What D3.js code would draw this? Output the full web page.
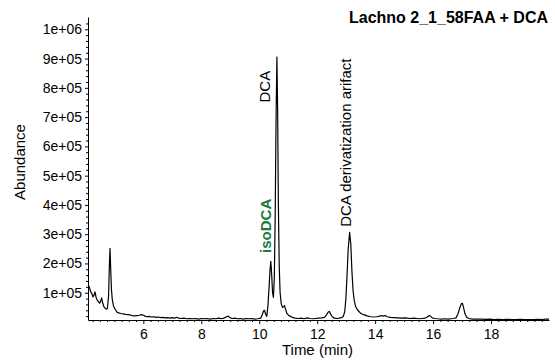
<!DOCTYPE html>
<html>
<head>
<meta charset="utf-8">
<script src="https://cdn.jsdelivr.net/npm/d3@7/dist/d3.min.js"></script>
<style>
  html, body { margin: 0; padding: 0; background: #fff; }
  svg { display: block; font-family: "Liberation Sans", Arial, sans-serif; }
</style>
</head>
<body>
<svg id="chart" width="555" height="364"></svg>
<script>
// Total ion chromatogram: retention time (min) and abundance
const times = [
  4.10, 4.14, 4.18, 4.22, 4.26, 4.30, 4.33, 4.37, 4.41, 4.45, 4.49, 4.53, 4.56, 4.60, 4.64, 4.68,
  4.72, 4.76, 4.80, 4.83, 4.85, 4.87, 4.90, 4.93, 4.97, 5.00, 5.05, 5.10, 5.15, 5.22, 5.30, 5.38,
  5.46, 5.54, 5.62, 5.70, 5.78, 5.86, 5.94, 6.00, 6.06, 6.12, 6.20, 6.28, 6.36, 6.44, 6.52, 6.60,
  6.68, 6.76, 6.84, 6.92, 7.00, 7.08, 7.15, 7.22, 7.30, 7.40, 7.50, 7.60, 7.70, 7.80, 7.90, 8.00,
  8.10, 8.20, 8.30, 8.40, 8.50, 8.60, 8.70, 8.80, 8.87, 8.93, 9.00, 9.08, 9.16, 9.25, 9.35, 9.45,
  9.55, 9.65, 9.75, 9.85, 9.95, 10.05, 10.10, 10.15, 10.18, 10.22, 10.26, 10.30, 10.34, 10.37, 10.40, 10.43,
  10.46, 10.49, 10.52, 10.55, 10.58, 10.61, 10.635, 10.66, 10.69, 10.72, 10.76, 10.80, 10.84, 10.87, 10.91, 10.95,
  11.00, 11.06, 11.14, 11.24, 11.35, 11.45, 11.55, 11.65, 11.75, 11.85, 11.95, 12.05, 12.15, 12.25, 12.32, 12.38,
  12.42, 12.47, 12.53, 12.60, 12.68, 12.76, 12.84, 12.90, 12.95, 12.99, 13.03, 13.07, 13.12, 13.16, 13.20, 13.24,
  13.28, 13.33, 13.40, 13.50, 13.60, 13.72, 13.85, 13.95, 14.05, 14.15, 14.22, 14.28, 14.34, 14.42, 14.52, 14.65,
  14.78, 14.90, 15.05, 15.20, 15.35, 15.50, 15.62, 15.72, 15.80, 15.86, 15.91, 15.97, 16.05, 16.15, 16.28, 16.40,
  16.52, 16.62, 16.72, 16.80, 16.86, 16.92, 16.97, 17.01, 17.05, 17.10, 17.16, 17.24, 17.35, 17.50, 17.65, 17.80,
  17.95, 18.10, 18.25, 18.40, 18.55, 18.70, 18.85, 19.00, 19.15, 19.30, 19.45, 19.60, 19.75, 19.90, 20.00
];
const abundance = [
  126000, 118000, 104000, 98000, 86000, 92000, 103000, 84000, 74000, 70000, 64000, 72000, 82000, 64000, 52000, 47000,
  44000, 46000, 90000, 200000, 252000, 190000, 110000, 75000, 55000, 48000, 40000, 33000, 31000, 29000, 28000, 26000,
  25000, 24000, 22000, 21000, 22000, 23000, 25000, 23000, 20000, 18000, 19000, 17000, 18000, 16000, 17000, 15000,
  16000, 14000, 15000, 13000, 15000, 13000, 16000, 13000, 12000, 13000, 11000, 12000, 11000, 12000, 10000, 12000,
  11000, 12000, 10000, 12000, 11000, 13000, 11000, 14000, 18000, 20000, 14000, 12000, 13000, 11000, 12000, 10000,
  12000, 11000, 12000, 10000, 11000, 13000, 24000, 38000, 40000, 27000, 19000, 55000, 120000, 175000, 207000, 160000,
  100000, 84000, 150000, 360000, 690000, 905000, 720000, 400000, 190000, 100000, 62000, 50000, 52000, 56000, 43000, 30000,
  24000, 20000, 16000, 13000, 12000, 13000, 11000, 14000, 12000, 11000, 12000, 13000, 14000, 16000, 24000, 34000,
  36000, 26000, 17000, 13000, 12000, 13000, 15000, 19000, 35000, 80000, 160000, 250000, 306000, 265000, 170000, 105000,
  72000, 52000, 40000, 30000, 25000, 21000, 18000, 17000, 18000, 20000, 22000, 20000, 22000, 18000, 16000, 15000,
  14000, 13000, 14000, 12000, 13000, 11000, 12000, 13000, 17000, 22000, 20000, 14000, 12000, 11000, 10000, 11000,
  10000, 11000, 12000, 15000, 28000, 48000, 62000, 64000, 50000, 28000, 16000, 12000, 10000, 9500, 10000, 9000,
  9500, 8500, 9000, 8000, 9000, 8500, 8000, 9000, 8000, 8500, 8000, 9000, 8500, 9500, 10000
];

// Axis ticks
const xTicks = [6, 8, 10, 12, 14, 16, 18];
const xTickLabels = ["6", "8", "10", "12", "14", "16", "18"];
const yTicks = [100000, 200000, 300000, 400000, 500000, 600000, 700000, 800000, 900000, 1000000];
const yTickLabels = ["1e+05", "2e+05", "3e+05", "4e+05", "5e+05", "6e+05", "7e+05", "8e+05", "9e+05", "1e+06"];

// Peak annotations: label, retention time, abundance at the foot of the label
const peakNames = ["DCA", "isoDCA", "DCA derivatization arifact"];
const peakTimes = [10.61, 10.40, 13.12];
const peakLabelLevels = [750000, 236000, 325000];

const svg = d3.select("#chart");
const margin = { left: 88, right: 6, top: 17, bottom: 44 };
const W = 555, H = 364;

const x = d3.scaleLinear().domain([4.09, 20.0]).range([margin.left, W - margin.right]);
const y = d3.scaleLinear().domain([6800, 1042000]).range([H - margin.bottom, margin.top]);

const g = svg.append("g");

// minor ticks
const xMinor = d3.range(4.25, 20.0, 0.25).filter(v => Math.abs(v / 2 - Math.round(v / 2)) > 1e-6);
const yMinor = d3.range(20000, 1040000, 20000).filter(v => v % 100000 !== 0);

g.append("g")
  .attr("transform", `translate(0,${H - margin.bottom})`)
  .call(d3.axisBottom(x).tickValues(xMinor).tickSize(2).tickFormat(""))
  .call(a => a.select(".domain").remove());

g.append("g")
  .attr("transform", `translate(${margin.left},0)`)
  .call(d3.axisLeft(y).tickValues(yMinor).tickSize(2).tickFormat(""))
  .call(a => a.select(".domain").remove());

// major axes
const xAxis = g.append("g")
  .attr("transform", `translate(0,${H - margin.bottom})`)
  .call(d3.axisBottom(x).tickValues(xTicks).tickSize(4).tickPadding(5)
    .tickFormat((d, i) => xTickLabels[i]).tickSizeOuter(0));

const yAxis = g.append("g")
  .attr("transform", `translate(${margin.left},0)`)
  .call(d3.axisLeft(y).tickValues(yTicks).tickSize(3).tickPadding(3)
    .tickFormat((d, i) => yTickLabels[i]).tickSizeOuter(0));

[xAxis, yAxis].forEach(a => {
  a.selectAll("text").attr("font-size", 14).attr("fill", "#000")
    .attr("font-family", "'Liberation Sans', Arial, sans-serif");
  a.selectAll("line").attr("stroke", "#000");
  a.select(".domain").attr("stroke", "#000");
});

// chromatogram trace
const pts = times.map((t, i) => [t, abundance[i]]);
g.append("path")
  .datum(pts)
  .attr("fill", "none")
  .attr("stroke", "#000")
  .attr("stroke-width", 1.2)
  .attr("stroke-linejoin", "round")
  .attr("d", d3.line().x(d => x(d[0])).y(d => y(Math.max(d[1], 6800))));

// peak labels, written bottom-to-top
const labelStyle = [
  { dx: -12, color: "#000", weight: "normal" },
  { dx: -5, color: "#1a7a40", weight: "bold" },
  { dx: -4, color: "#000", weight: "normal" }
];
peakNames.forEach((name, i) => {
  const s = labelStyle[i];
  svg.append("text")
    .attr("transform", `translate(${x(peakTimes[i]) + s.dx},${y(peakLabelLevels[i])}) rotate(-90)`)
    .attr("text-anchor", "start")
    .attr("dominant-baseline", "central")
    .attr("font-size", 15)
    .attr("font-weight", s.weight)
    .attr("fill", s.color)
    .text(name);
});

// title
svg.append("text")
  .attr("x", 548).attr("y", 23)
  .attr("text-anchor", "end")
  .attr("font-size", 16)
  .attr("font-weight", "bold")
  .text("Lachno 2_1_58FAA + DCA");

// axis titles
svg.append("text")
  .attr("x", (margin.left + W - margin.right) / 2 - 1)
  .attr("y", 355)
  .attr("text-anchor", "middle")
  .attr("font-size", 15)
  .text("Time (min)");

svg.append("text")
  .attr("transform", `translate(25,162) rotate(-90)`)
  .attr("text-anchor", "middle")
  .attr("font-size", 15)
  .text("Abundance");
</script>
</body>
</html>
